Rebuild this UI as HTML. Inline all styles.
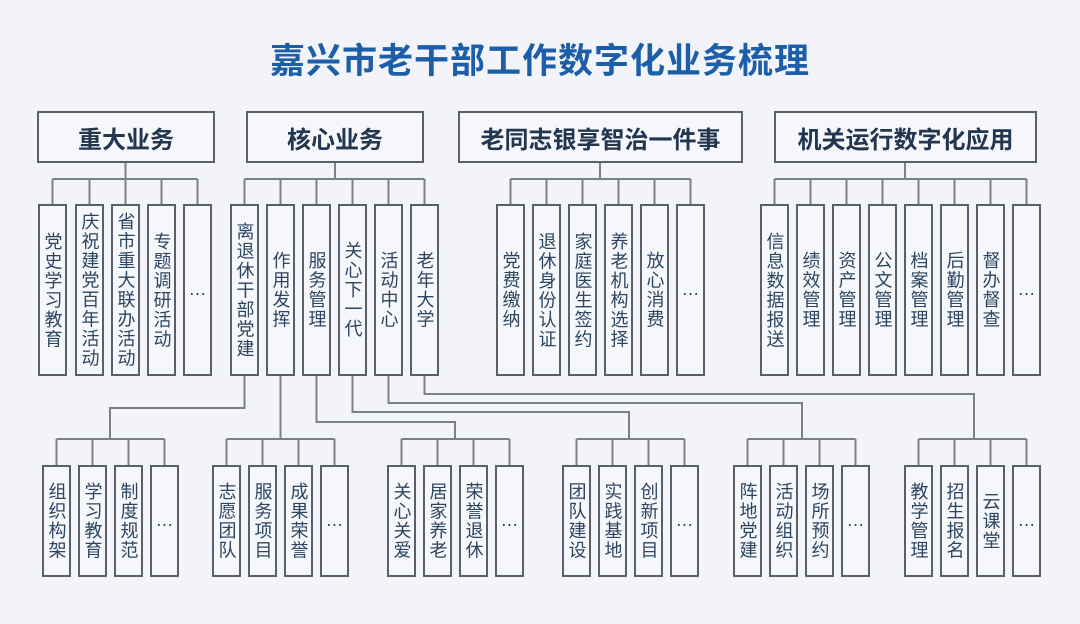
<!DOCTYPE html>
<html><head><meta charset="utf-8"><style>
*{box-sizing:border-box;margin:0;padding:0}
body{width:1080px;height:624px;background:#f3f4fa;position:relative;overflow:hidden;font-family:"Liberation Sans","Noto Sans CJK SC",sans-serif}
.t{position:absolute;top:33px;left:0;width:1080px;text-align:center;font-size:35px;font-weight:bold;color:#1c5fa8;letter-spacing:1px}
.h{position:absolute;top:111px;height:52px;border:2px solid #5b6068;background:#f6f7fb;display:flex;align-items:center;justify-content:center;font-size:24px;font-weight:bold;color:#22364f}
.b{position:absolute;width:29px;border:2px solid #5b6068;background:#f6f7fb;display:flex;align-items:center;justify-content:center;writing-mode:vertical-rl;text-orientation:upright;font-size:18px;letter-spacing:1.5px;color:#2c4561;line-height:1}
.r1{top:204px;height:172px}
.r2{top:465px;height:112px}
svg{position:absolute;left:0;top:0}
</style></head><body>
<div class="t">嘉兴市老干部工作数字化业务梳理</div>
<svg width="1080" height="624" fill="none" stroke="#7b7f87" stroke-width="2">
<path d="M125.5 163V179M52.5 179H197.5M52.5 179V204M89.5 179V204M125.5 179V204M161.5 179V204M197.5 179V204"/>
<path d="M335 163V179M244.5 179H424.5M244.5 179V204M280.5 179V204M316.5 179V204M352.5 179V204M388.5 179V204M424.5 179V204"/>
<path d="M600 163V179M510.5 179H690.5M510.5 179V204M546.5 179V204M582.5 179V204M618.5 179V204M654.5 179V204M690.5 179V204"/>
<path d="M905 163V179M774.5 179H1026.5M774.5 179V204M810.5 179V204M846.5 179V204M882.5 179V204M918.5 179V204M954.5 179V204M990.5 179V204M1026.5 179V204"/>
<path d="M244.5 376V408H110V439M56.5 439H164.5M56.5 439V465M92.5 439V465M128.5 439V465M164.5 439V465"/>
<path d="M280.5 376V439M226.5 439H334.5M226.5 439V465M262.5 439V465M298.5 439V465M334.5 439V465"/>
<path d="M316.5 376V422H455V439M401.5 439H509.5M401.5 439V465M437.5 439V465M473.5 439V465M509.5 439V465"/>
<path d="M352.5 376V412H629V439M576.5 439H684.5M576.5 439V465M612.5 439V465M648.5 439V465M684.5 439V465"/>
<path d="M388.5 376V403H802V439M747.5 439H855.5M747.5 439V465M783.5 439V465M819.5 439V465M855.5 439V465"/>
<path d="M424.5 376V394H974V439M918.5 439H1026.5M918.5 439V465M954.5 439V465M990.5 439V465M1026.5 439V465"/>
</svg>
<div class="h" style="left:37px;width:178px">重大业务</div>
<div class="h" style="left:246px;width:178px">核心业务</div>
<div class="h" style="left:458px;width:285px">老同志银享智治一件事</div>
<div class="h" style="left:774px;width:263px">机关运行数字化应用</div>

<div class="b r1" style="left:38px">党史学习教育</div>
<div class="b r1" style="left:75px">庆祝建党百年活动</div>
<div class="b r1" style="left:111px">省市重大联办活动</div>
<div class="b r1" style="left:147px">专题调研活动</div>
<div class="b r1" style="left:183px">…</div>

<div class="b r1" style="left:230px">离退休干部党建</div>
<div class="b r1" style="left:266px">作用发挥</div>
<div class="b r1" style="left:302px">服务管理</div>
<div class="b r1" style="left:338px">关心下一代</div>
<div class="b r1" style="left:374px">活动中心</div>
<div class="b r1" style="left:410px">老年大学</div>

<div class="b r1" style="left:496px">党费缴纳</div>
<div class="b r1" style="left:532px">退休身份认证</div>
<div class="b r1" style="left:568px">家庭医生签约</div>
<div class="b r1" style="left:604px">养老机构选择</div>
<div class="b r1" style="left:640px">放心消费</div>
<div class="b r1" style="left:676px">…</div>

<div class="b r1" style="left:760px">信息数据报送</div>
<div class="b r1" style="left:796px">绩效管理</div>
<div class="b r1" style="left:832px">资产管理</div>
<div class="b r1" style="left:868px">公文管理</div>
<div class="b r1" style="left:904px">档案管理</div>
<div class="b r1" style="left:940px">后勤管理</div>
<div class="b r1" style="left:976px">督办督查</div>
<div class="b r1" style="left:1012px">…</div>

<div class="b r2" style="left:42px">组织构架</div>
<div class="b r2" style="left:78px">学习教育</div>
<div class="b r2" style="left:114px">制度规范</div>
<div class="b r2" style="left:150px">…</div>

<div class="b r2" style="left:212px">志愿团队</div>
<div class="b r2" style="left:248px">服务项目</div>
<div class="b r2" style="left:284px">成果荣誉</div>
<div class="b r2" style="left:320px">…</div>

<div class="b r2" style="left:387px">关心关爱</div>
<div class="b r2" style="left:423px">居家养老</div>
<div class="b r2" style="left:459px">荣誉退休</div>
<div class="b r2" style="left:495px">…</div>

<div class="b r2" style="left:562px">团队建设</div>
<div class="b r2" style="left:598px">实践基地</div>
<div class="b r2" style="left:634px">创新项目</div>
<div class="b r2" style="left:670px">…</div>

<div class="b r2" style="left:733px">阵地党建</div>
<div class="b r2" style="left:769px">活动组织</div>
<div class="b r2" style="left:805px">场所预约</div>
<div class="b r2" style="left:841px">…</div>

<div class="b r2" style="left:904px">教学管理</div>
<div class="b r2" style="left:940px">招生报名</div>
<div class="b r2" style="left:976px">云课堂</div>
<div class="b r2" style="left:1012px">…</div>
</body></html>
